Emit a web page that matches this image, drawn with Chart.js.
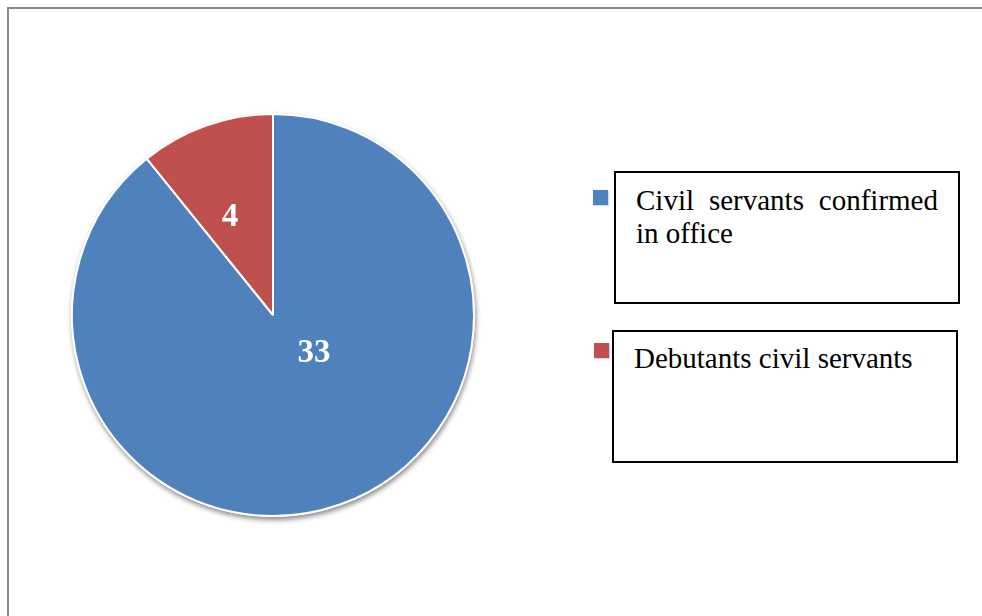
<!DOCTYPE html>
<html lang="en">
<head>
  <meta charset="UTF-8">
  <title>Civil servants</title>
  <script src="https://cdn.jsdelivr.net/npm/chart.js"></script>
  <style>
    body {
      margin: 0;
      padding: 0;
      background: #ffffff;
      width: 982px;
      height: 616px;
      overflow: hidden;
      position: relative;
      font-family: 'Liberation Serif', 'Times New Roman', serif;
    }

    .frame {
      position: absolute;
      left: 7px;
      top: 7px;
      width: 1000px;
      height: 700px;
      border: 2px solid #8a8a8a;
    }

    .pie-wrap {
      position: absolute;
      left: 61px;
      top: 103px;
      width: 424px;
      height: 424px;
    }

    .legend-item {
      position: absolute;
      box-sizing: border-box;
      border: 2px solid #000;
      padding-left: 20px;
      padding-right: 20px;
      font-size: 29px;
      line-height: 33px;
      color: #000;
      text-align: justify;
      background: #fff;
    }

    .swatch {
      position: absolute;
      width: 15px;
      height: 15px;
      box-shadow: 1px 1px 1px rgba(0,0,0,0.15);
    }
  </style>
</head>
<body>

  <div class="frame"></div>

  <div class="pie-wrap">
    <canvas id="pieChart"></canvas>
  </div>

  <div id="legend"></div>

  <script>
    const categories = ['Civil servants confirmed in office', 'Debutants civil servants'];
    const values = [33, 4];
    const colors = ['#4f81bd', '#c0504d'];

    // where each value label sits, as a fraction of the radius from the centre
    const labelSpots = [[0.204, 0.189], [-0.214, -0.485]];

    // legend boxes (left, top, width, height) and the little colour squares
    const legendBoxes = [[614, 171, 346, 133, 11], [612, 330, 346, 133, 10]];
    const swatchSpots = [[593, 190], [594, 343]];

    const legend = document.getElementById('legend');
    categories.forEach((name, i) => {
      const b = legendBoxes[i];
      const box = document.createElement('div');
      box.className = 'legend-item';
      box.style.left = b[0] + 'px';
      box.style.top = b[1] + 'px';
      box.style.width = b[2] + 'px';
      box.style.height = b[3] + 'px';
      box.style.paddingTop = b[4] + 'px';
      box.textContent = name;
      legend.appendChild(box);

      const sw = document.createElement('div');
      sw.className = 'swatch';
      sw.style.left = swatchSpots[i][0] + 'px';
      sw.style.top = swatchSpots[i][1] + 'px';
      sw.style.background = colors[i];
      legend.appendChild(sw);
    });

    const pieShadow = {
      id: 'pieShadow',
      beforeDatasetsDraw(chart) {
        const arc = chart.getDatasetMeta(0).data[0];
        if (!arc) return;
        const ctx = chart.ctx;
        ctx.save();
        ctx.shadowColor = 'rgba(0,0,0,0.45)';
        ctx.shadowBlur = 5;
        ctx.shadowOffsetX = 1;
        ctx.shadowOffsetY = 3;
        ctx.fillStyle = '#ffffff';
        ctx.beginPath();
        ctx.arc(arc.x, arc.y, arc.outerRadius + 1, 0, Math.PI * 2);
        ctx.fill();
        ctx.restore();
      }
    };

    const valueLabels = {
      id: 'valueLabels',
      afterDatasetsDraw(chart) {
        const ctx = chart.ctx;
        const meta = chart.getDatasetMeta(0);
        ctx.save();
        ctx.fillStyle = '#ffffff';
        ctx.font = 'bold 33px "Liberation Serif", "Times New Roman", serif';
        ctx.textAlign = 'center';
        ctx.textBaseline = 'middle';
        meta.data.forEach((arc, i) => {
          const r = arc.outerRadius;
          const x = arc.x + labelSpots[i][0] * r;
          const y = arc.y + labelSpots[i][1] * r;
          ctx.fillText(String(values[i]), x, y);
        });
        ctx.restore();
      }
    };

    const ctx = document.getElementById('pieChart').getContext('2d');
    new Chart(ctx, {
      type: 'pie',
      data: {
        labels: categories,
        datasets: [{
          data: values,
          backgroundColor: colors,
          borderColor: '#ffffff',
          borderWidth: 2
        }]
      },
      options: {
        responsive: true,
        maintainAspectRatio: false,
        animation: false,
        layout: { padding: 10 },
        plugins: {
          legend: { display: false },
          tooltip: { enabled: false }
        }
      },
      plugins: [pieShadow, valueLabels]
    });
  </script>

</body>
</html>
